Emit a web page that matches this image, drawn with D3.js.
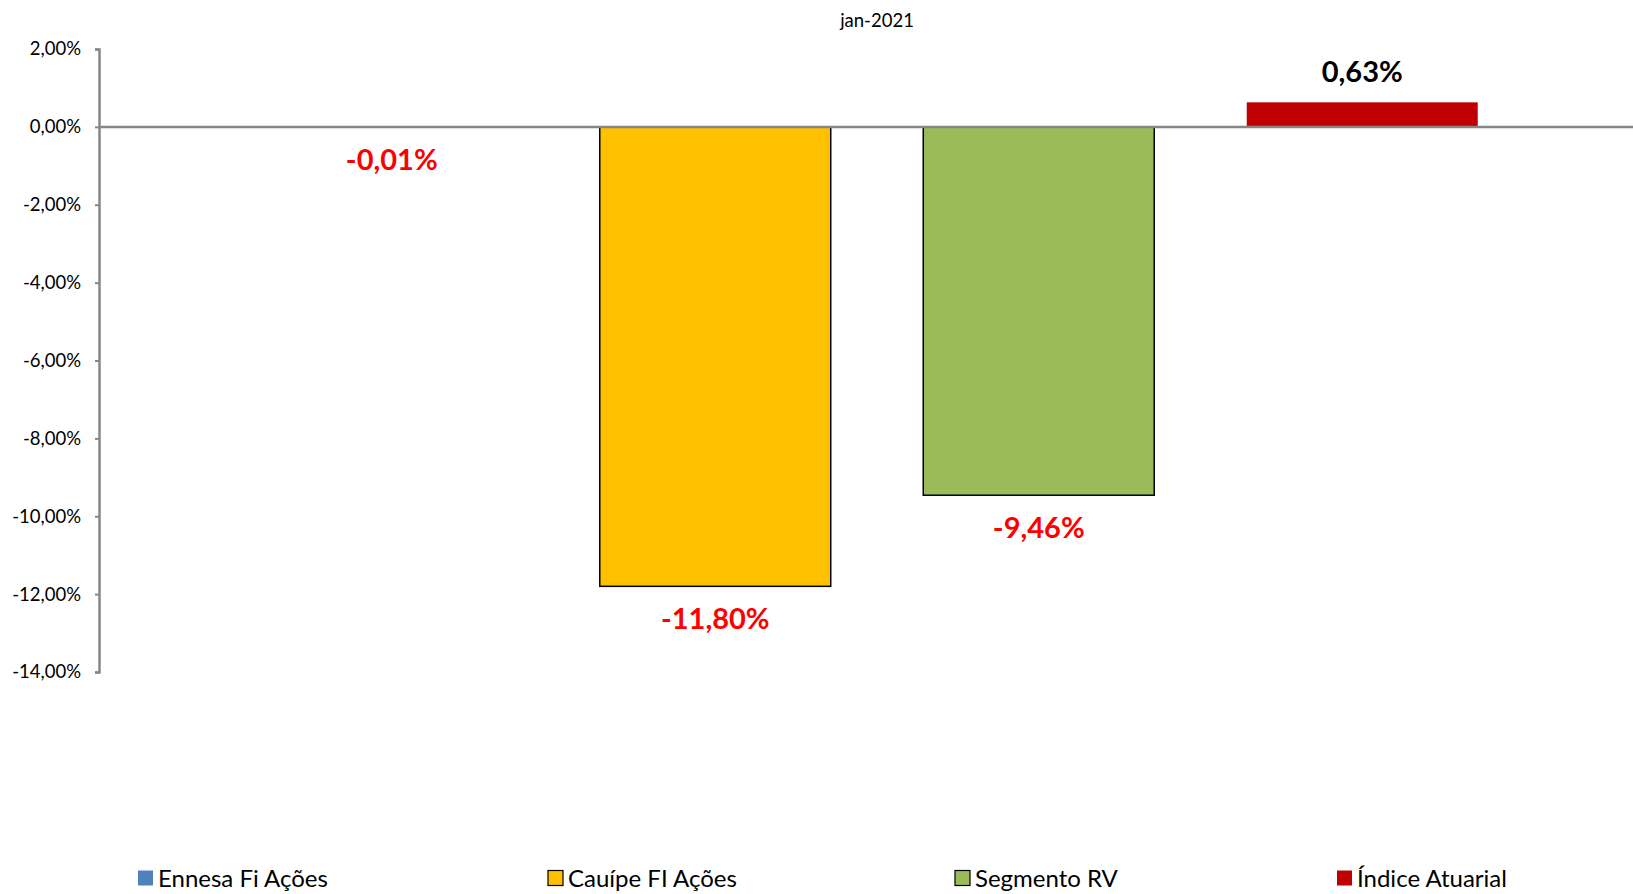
<!DOCTYPE html>
<html><head><meta charset="utf-8">
<script src="https://cdn.jsdelivr.net/npm/d3@7"></script>
<style>body{margin:0;background:#fff;}svg{display:block;}</style>
</head><body>
<svg id="c" width="1633" height="894"></svg>
<script>
const category = ["jan-2021"];
const series = ["Ennesa Fi Ações", "Cauípe FI Ações", "Segmento RV", "Índice Atuarial"];
const values = [-0.01, -11.80, -9.46, 0.63];
const labels = ["-0,01%", "-11,80%", "-9,46%", "0,63%"];
const colors = ["#4F81BD", "#FFC000", "#9BBB59", "#C00000"];
const outlined = [false, true, true, false];
const yTicks = [2, 0, -2, -4, -6, -8, -10, -12, -14];

(function () {
const svg = d3.select("#c");
const font = "Lato, 'Open Sans', sans-serif";
const pLeft = 99, pRight = 1655, pTop = 49, pBottom = 672;

const y = d3.scaleLinear().domain([-14, 2]).range([pBottom, pTop]);
const x0 = d3.scaleBand().domain(category).range([pLeft, pRight]);
const x1 = d3.scaleBand().domain(series).range([0, x0.bandwidth()]).paddingInner(0.286).paddingOuter(0.548);

const fmt = v => d3.format(".2f")(v).replace(".", ",").replace("−", "-") + "%";

// y axis
const yAxis = d3.axisLeft(y).tickValues(yTicks).tickFormat(fmt).tickSize(4).tickPadding(14);
const ga = svg.append("g").attr("transform", `translate(${pLeft},0)`).call(yAxis);
ga.select(".domain").attr("stroke", "#868686").attr("stroke-width", 2.5);
ga.selectAll(".tick line").attr("stroke", "#868686").attr("stroke-width", 2);
ga.selectAll(".tick text").attr("font-family", font).attr("font-size", 18.5).attr("fill", "#000");

// bars
const g = svg.append("g").attr("transform", `translate(${x0(category[0])},0)`);
series.forEach((s, i) => {
  const v = values[i];
  g.append("rect")
    .attr("x", x1(s)).attr("width", x1.bandwidth())
    .attr("y", y(Math.max(0, v))).attr("height", Math.abs(y(v) - y(0)))
    .attr("fill", colors[i])
    .attr("stroke", outlined[i] ? "#000" : "none").attr("stroke-width", 1.5);
});

// zero line
svg.append("line").attr("x1", pLeft).attr("x2", 1633).attr("y1", y(0)).attr("y2", y(0))
  .attr("stroke", "#868686").attr("stroke-width", 2.5);

// data labels
series.forEach((s, i) => {
  const v = values[i];
  const cx = x0(category[0]) + x1(s) + x1.bandwidth() / 2;
  const yy = v < 0 ? y(v) + 43 : y(v) - 20;
  svg.append("text").attr("x", cx).attr("y", yy).attr("text-anchor", "middle")
    .attr("font-family", font).attr("font-weight", "bold").attr("font-size", 29)
    .attr("fill", v < 0 ? "#FF0000" : "#000").text(labels[i]);
});

// category label on top
svg.append("text").attr("x", x0(category[0]) + x0.bandwidth() / 2).attr("y", 27)
  .attr("text-anchor", "middle").attr("font-family", font).attr("font-size", 18.5)
  .attr("fill", "#000").text(category[0]);

// legend
const legendX = [138, 548, 955, 1337];
series.forEach((s, i) => {
  const lg = svg.append("g").attr("transform", `translate(${legendX[i]},878)`);
  lg.append("rect").attr("x", 0).attr("y", -7.5).attr("width", 15).attr("height", 15)
    .attr("fill", colors[i]).attr("stroke", outlined[i] ? "#000" : "none").attr("stroke-width", 1.2);
  lg.append("text").attr("x", 20).attr("y", 9).attr("font-family", font).attr("font-size", 24)
    .attr("fill", "#000").text(s);
});
})();
</script>
</body></html>
